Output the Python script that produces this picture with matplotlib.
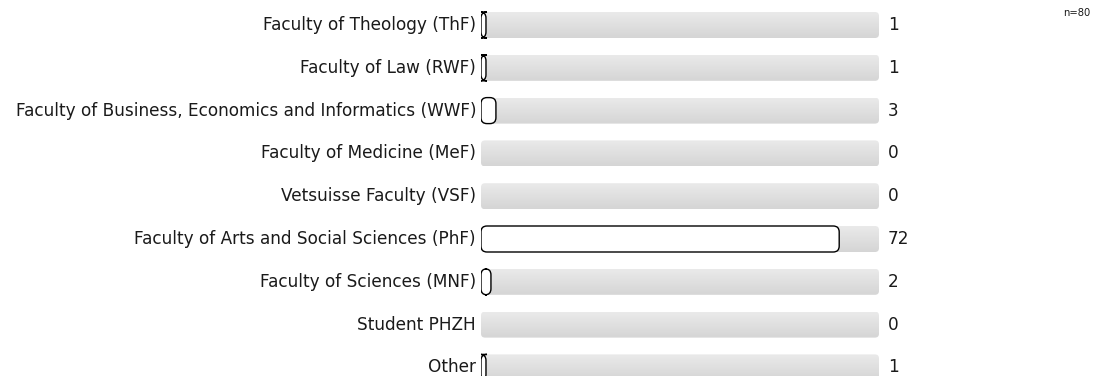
import numpy as np
import matplotlib
matplotlib.use('Agg')
import matplotlib.pyplot as plt
from matplotlib.patches import FancyBboxPatch

categories = ['Faculty of Theology (ThF)', 'Faculty of Law (RWF)',
              'Faculty of Business, Economics and Informatics (WWF)',
              'Faculty of Medicine (MeF)', 'Vetsuisse Faculty (VSF)',
              'Faculty of Arts and Social Sciences (PhF)',
              'Faculty of Sciences (MNF)', 'Student PHZH', 'Other']
counts = [1, 1, 3, 0, 0, 72, 2, 0, 1]
n_total = 80

# the reference text is wide for its height, DejaVu Sans is the closest match
plt.rcParams['font.family'] = ['DejaVu Sans']

W, H = 1106, 376
fig = plt.figure(figsize=(W / 100, H / 100), dpi=100)
# axes covers the bar track only, full height
x0_px, x1_px = 481, 879
ax = fig.add_axes([x0_px / W, 0, (x1_px - x0_px) / W, 1])
row0, step = 25, 42.8
ax.set_xlim(0, n_total)
ax.set_ylim((H - row0) / step, -row0 / step)
ax.axis('off')

px_x = (x1_px - x0_px) / n_total   # pixels per count
px_y = step                        # pixels per row
aspect = px_x / px_y
bar_h = 26 / px_y

grad = np.linspace(0, 1, 64).reshape(-1, 1)
cmap = matplotlib.colors.LinearSegmentedColormap.from_list('g', ['#eaeaea', '#d5d5d5'])

for i, (cat, v) in enumerate(zip(categories, counts)):
    # background track with gradient
    bg = FancyBboxPatch((0, i - bar_h / 2), n_total, bar_h,
                        boxstyle='round,pad=0,rounding_size=%f' % (4 / px_x),
                        mutation_aspect=aspect, facecolor='none', edgecolor='none')
    ax.add_patch(bg)
    im = ax.imshow(grad, cmap=cmap, aspect='auto', interpolation='bilinear',
                   extent=(0, n_total, i + bar_h / 2, i - bar_h / 2), zorder=1)
    im.set_clip_path(bg)
    if v > 0:
        fg = FancyBboxPatch((0, i - bar_h / 2), v, bar_h,
                            boxstyle='round,pad=0,rounding_size=%f' % (6 / px_x),
                            mutation_aspect=aspect, facecolor='white',
                            edgecolor='black', linewidth=1.0, zorder=3)
        ax.add_patch(fg)
    ax.annotate(cat, xy=(0, i), xytext=(-5, 0), textcoords='offset pixels',
                ha='right', va='center', fontsize=12.2, color='#1a1a1a',
                annotation_clip=False)
    ax.annotate(str(v), xy=(n_total, i), xytext=(9, 0), textcoords='offset pixels',
                ha='left', va='center', fontsize=12.2, color='#1a1a1a',
                annotation_clip=False)

ax.set_xlim(0, n_total)
ax.set_ylim((H - row0) / step, -row0 / step)

fig.text(1090 / W, 1 - 13 / H, 'n=%d' % n_total, ha='right', va='center',
         fontsize=7.2, color='#1a1a1a')

fig.savefig('out.png', dpi=100)
